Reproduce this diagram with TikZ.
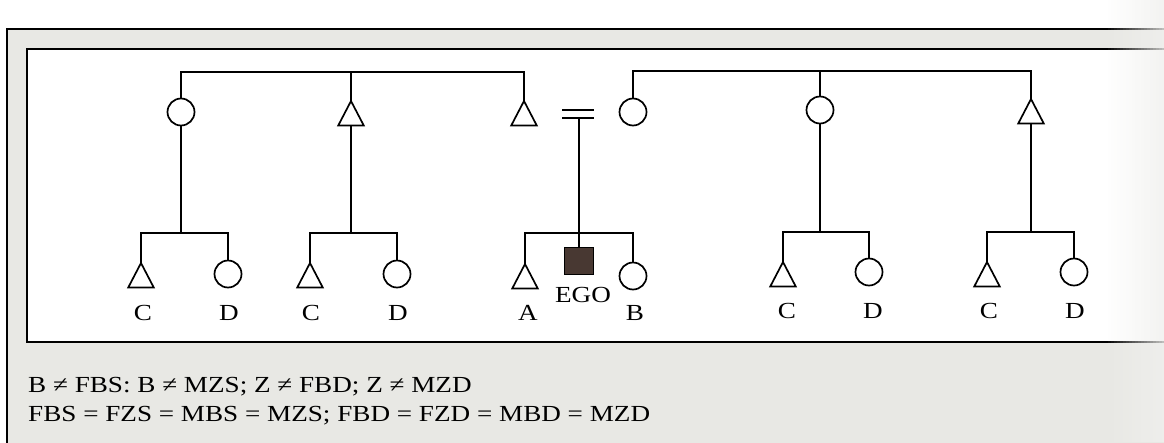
\documentclass[tikz,border=0pt]{standalone}
\usepackage{graphicx}
\usepackage{fontspec}
\setmainfont{Liberation Serif}
\definecolor{paper}{RGB}{232,232,228}
\definecolor{shadow}{RGB}{240,240,238}
\definecolor{egofill}{RGB}{72,56,50}
\tikzset{
  ln/.style={line width=1.7pt, line cap=butt},
  fem/.style={circle, draw, line width=1.7pt, minimum size=27pt, inner sep=0pt},
  male/.style={rectangle, minimum width=25pt, minimum height=24pt, inner sep=0pt, anchor=north},
  tridraw/.style={line width=1.7pt, line join=miter},
  egobox/.style={rectangle, draw, fill=egofill, line width=1pt, minimum width=29pt, minimum height=27pt, inner sep=0pt},
  lab/.style={font=\fontsize{23}{27}\selectfont, inner sep=0pt},
}
\newcommand{\wide}[1]{\scalebox{1.18}[1]{#1}}
\begin{document}
\begin{tikzpicture}[x=1pt,y=-1pt]
\useasboundingbox (0,0) rectangle (1164,442);
% page and frames
\fill[white] (0,0) rectangle (1164,442);
\fill[paper] (7,29) rectangle (1170,450);
\draw[line width=1.5pt] (7,450) -- (7,29) -- (1170,29);
\fill[white] (27,49) rectangle (1170,342);
\draw[line width=1.5pt] (1170,49) -- (27,49) -- (27,342) -- (1170,342);

% helper coordinates for bar heights
\coordinate (topL) at (0,72);
\coordinate (topR) at (0,71);
\coordinate (sibL) at (0,233);
\coordinate (sibR) at (0,232);

% generation 1
\node[fem] (c1) at (181,112) {};
\node[male] (t2) at (351,101) {};
\node[male] (t3) at (524,101) {};
\node[fem] (c4) at (633,112) {};
\node[fem] (c5) at (820,110) {};
\node[male] (t6) at (1031,99) {};

\draw[ln] (c1.north) -- (c1.north |- topL) -| (t3.north);
\draw[ln] (t2.north) -- (t2.north |- topL);
\draw[ln] (c4.north) -- (c4.north |- topR) -| (t6.north);
\draw[ln] (c5.north) -- (c5.north |- topR);

% marriage sign
\coordinate (mL1) at (562,110); \coordinate (mR1) at (594,110);
\coordinate (mL2) at (562,118); \coordinate (mR2) at (594,118);
\coordinate (m) at (579,118);
\draw[ln] (mL1) -- (mR1);
\draw[ln] (mL2) -- (mR2);

% generation 2
\node[male] (a1) at (141,263) {};
\node[fem] (b1) at (228,274) {};
\node[male] (a2) at (310,263) {};
\node[fem] (b2) at (397,274) {};
\node[male] (a3) at (525,264) {};
\node[egobox] (ego) at (579,261) {};
\node[fem] (b3) at (633,276) {};
\node[male] (a4) at (783,262) {};
\node[fem] (b4) at (869,272) {};
\node[male] (a5) at (987,262) {};
\node[fem] (b5) at (1074,272) {};

% triangles (male)
\foreach \n in {t2,t3,t6,a1,a2,a3,a4,a5}
  \draw[tridraw] (\n.south west) -- (\n.north) -- (\n.south east) -- cycle;

\draw[ln] (c1.south) -- (c1.south |- sibL);
\draw[ln] (a1.north) |- (b1.north |- sibL) -- (b1.north);
\draw[ln] (t2.south) -- (t2.south |- sibL);
\draw[ln] (a2.north) |- (b2.north |- sibL) -- (b2.north);
\draw[ln] (m) -- (ego.north);
\draw[ln] (a3.north) |- (b3.north |- sibL) -- (b3.north);
\draw[ln] (c5.south) -- (c5.south |- sibR);
\draw[ln] (a4.north) |- (b4.north |- sibR) -- (b4.north);
\draw[ln] (t6.south) -- (t6.south |- sibR);
\draw[ln] (a5.north) |- (b5.north |- sibR) -- (b5.north);

% labels
\node[lab] (l1) at (143,313) {\wide{C}};
\node[lab] (l2) at (229,313) {\wide{D}};
\node[lab] (l3) at (311,313) {\wide{C}};
\node[lab] (l4) at (398,313) {\wide{D}};
\node[lab] (l5) at (528,313) {\wide{A}};
\node[lab] (l6) at (583,295) {\wide{EGO}};
\node[lab] (l7) at (635,313) {\wide{B}};
\node[lab] (l8) at (787,311) {\wide{C}};
\node[lab] (l9) at (873,311) {\wide{D}};
\node[lab] (l10) at (989,311) {\wide{C}};
\node[lab] (l11) at (1075,311) {\wide{D}};

% caption text
\node[lab, anchor=base west] (cap1) at (28,392) {\wide{B ≠ FBS: B ≠ MZS; Z ≠ FBD; Z ≠ MZD}};
\node[lab, anchor=base west] (cap2) at (28,421) {\wide{FBS = FZS = MBS = MZS; FBD = FZD = MBD = MZD}};

% scan shadow at the right edge
\foreach \i in {0,...,19}
  \fill[shadow, opacity=\i/24] (1105+\i*3,0) rectangle (1108.2+\i*3,442);
\end{tikzpicture}
\end{document}
